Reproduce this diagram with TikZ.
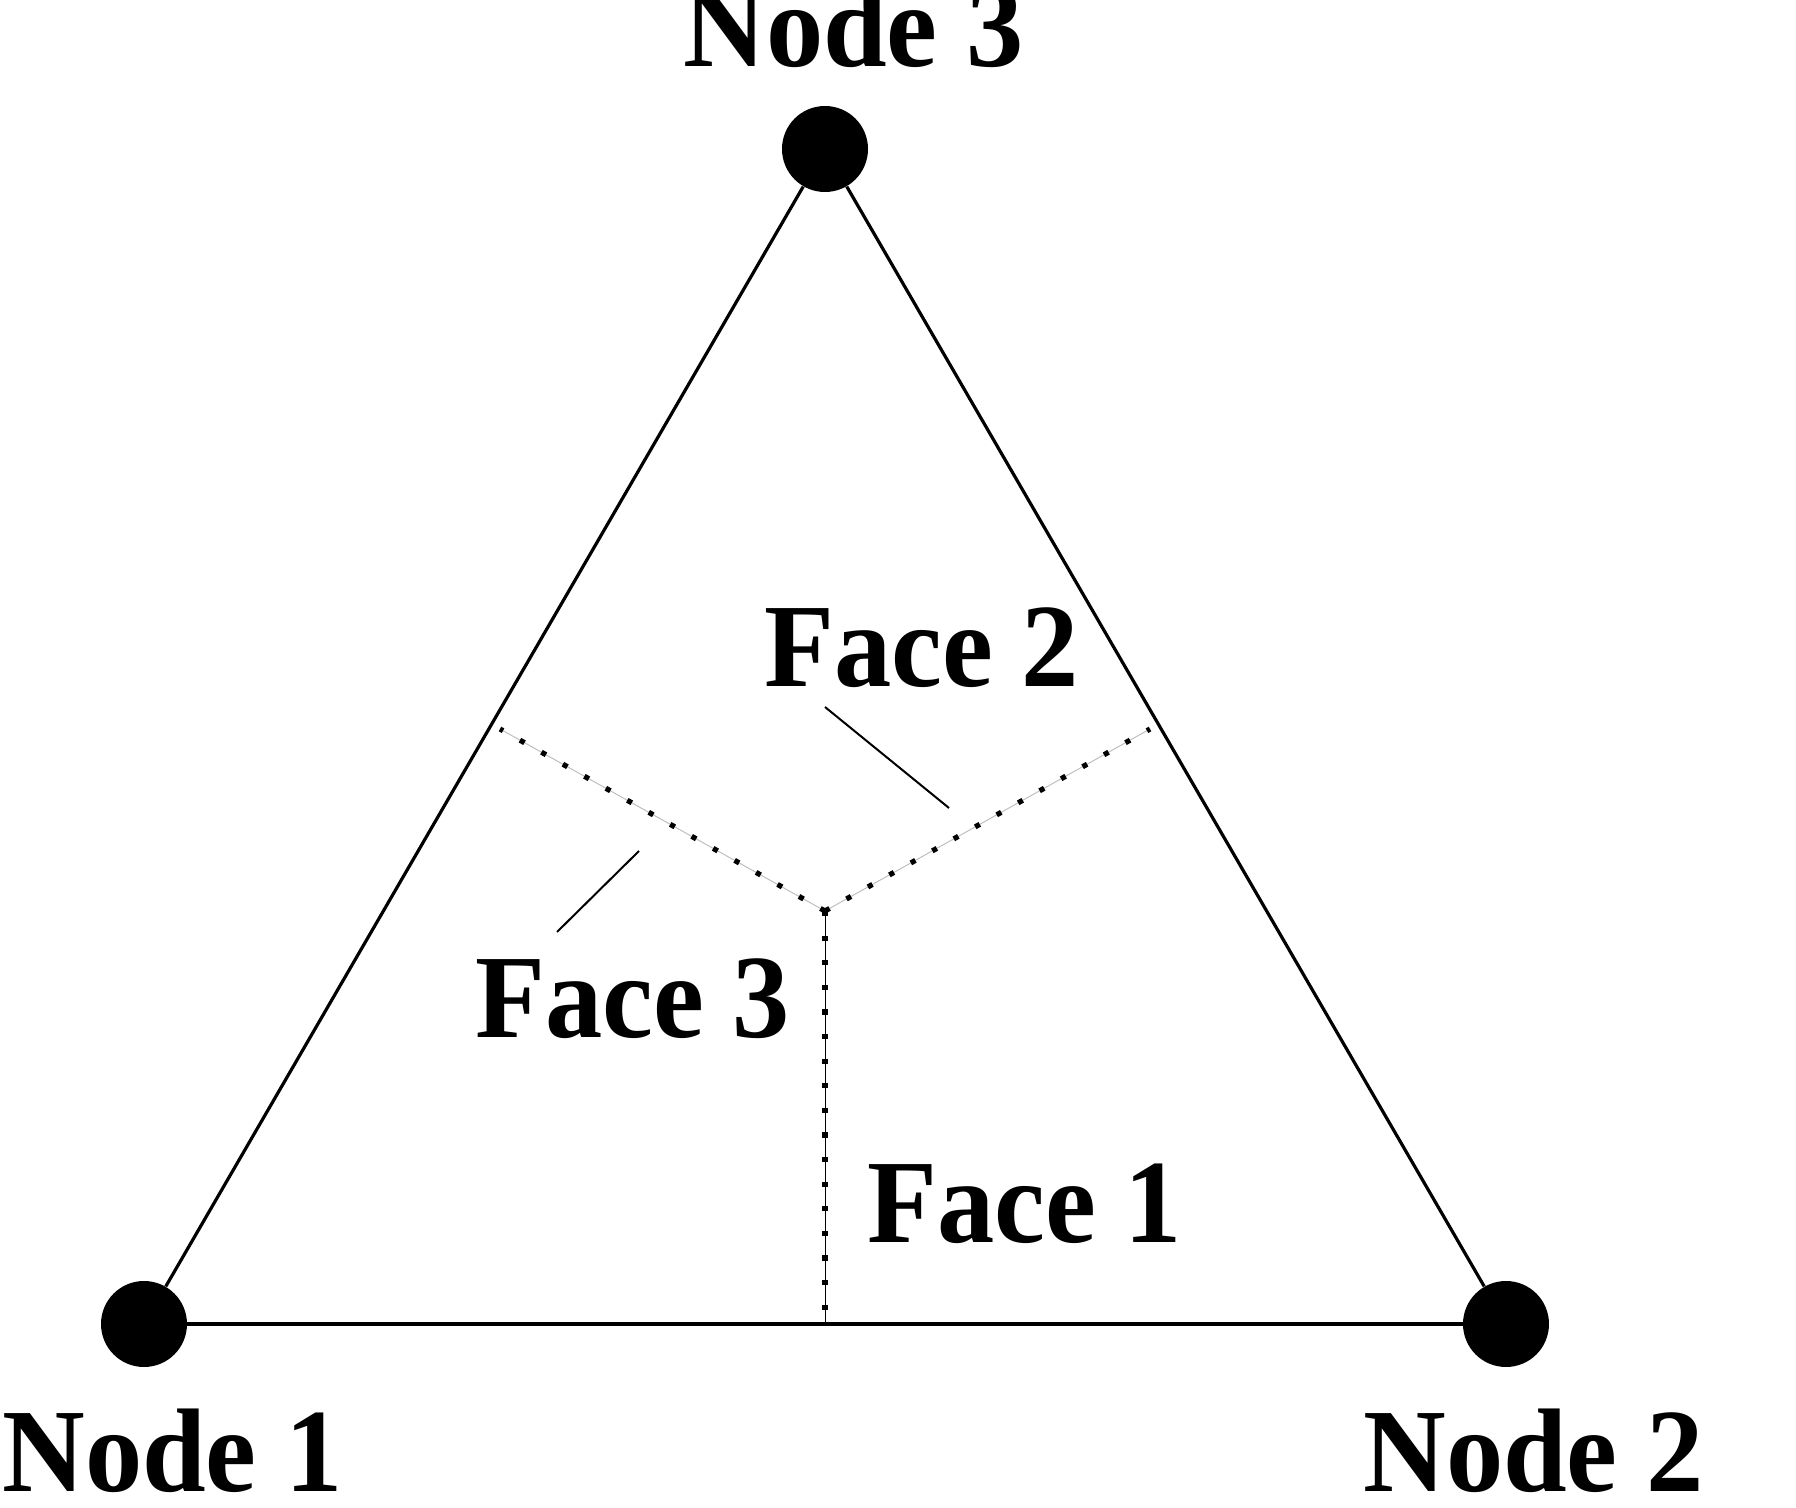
\documentclass[tikz,border=0pt]{standalone}
\usepackage{fontspec}
\setmainfont{Liberation Serif}
\begin{document}
\begin{tikzpicture}[x=0.5pt,y=-0.5pt,
  vtx/.style={circle,fill=black,inner sep=0pt,minimum size=43pt},
  lbl/.style={anchor=base west,inner sep=0pt,font=\fontsize{59.5pt}{60pt}\selectfont\bfseries},
  edgeline/.style={line width=1.6pt},
  ptr/.style={line width=1pt},
  guide/.style={line width=0.5pt,draw=black!25},
  vguide/.style={line width=0.5pt,draw=black},
  dotline/.style={line width=2.6pt,dash pattern=on 2.6pt off 9.7pt}]
\useasboundingbox (0,0) rectangle (1796,1508);
% vertices
\node[vtx] (n1) at (144,1324) {};
\node[vtx] (n2) at (1506,1324) {};
\node[vtx] (n3) at (825,149) {};
% dual faces
\coordinate (J) at (825,911);
\coordinate (L) at (500,729);
\coordinate (R) at (1150,729);
\coordinate (B) at (825,1324);
\draw[guide] (L) -- (J) -- (R);
\draw[dotline] (J) -- (L);
\draw[dotline] (J) -- (R);
\draw[vguide] (J) -- (B);
\draw[dotline] (J) -- (B);
% triangle edges
\draw[edgeline] (n1) -- (n2);
\draw[edgeline] (n2) -- (n3);
\draw[edgeline] (n3) -- (n1);
% pointers
\coordinate (p2a) at (825,707);
\coordinate (p2b) at (949,808);
\coordinate (p3a) at (639,851);
\coordinate (p3b) at (557,932);
\draw[ptr] (p2a) -- (p2b);
\draw[ptr] (p3a) -- (p3b);
% labels
\node[lbl] (t3) at (683,67) {\scalebox{0.962}[1]{Node 3}};
\node[lbl] (t1) at (2,1491) {\scalebox{0.962}[1]{Node 1}};
\node[lbl] (t2) at (1363,1491) {\scalebox{0.962}[1]{Node 2}};
\node[lbl] (f2) at (764,687) {\scalebox{0.962}[1]{Face 2}};
\node[lbl] (f3) at (475,1037) {\scalebox{0.962}[1]{Face 3}};
\node[lbl] (f1) at (867,1242) {\scalebox{0.962}[1]{Face 1}};
\end{tikzpicture}
\end{document}
